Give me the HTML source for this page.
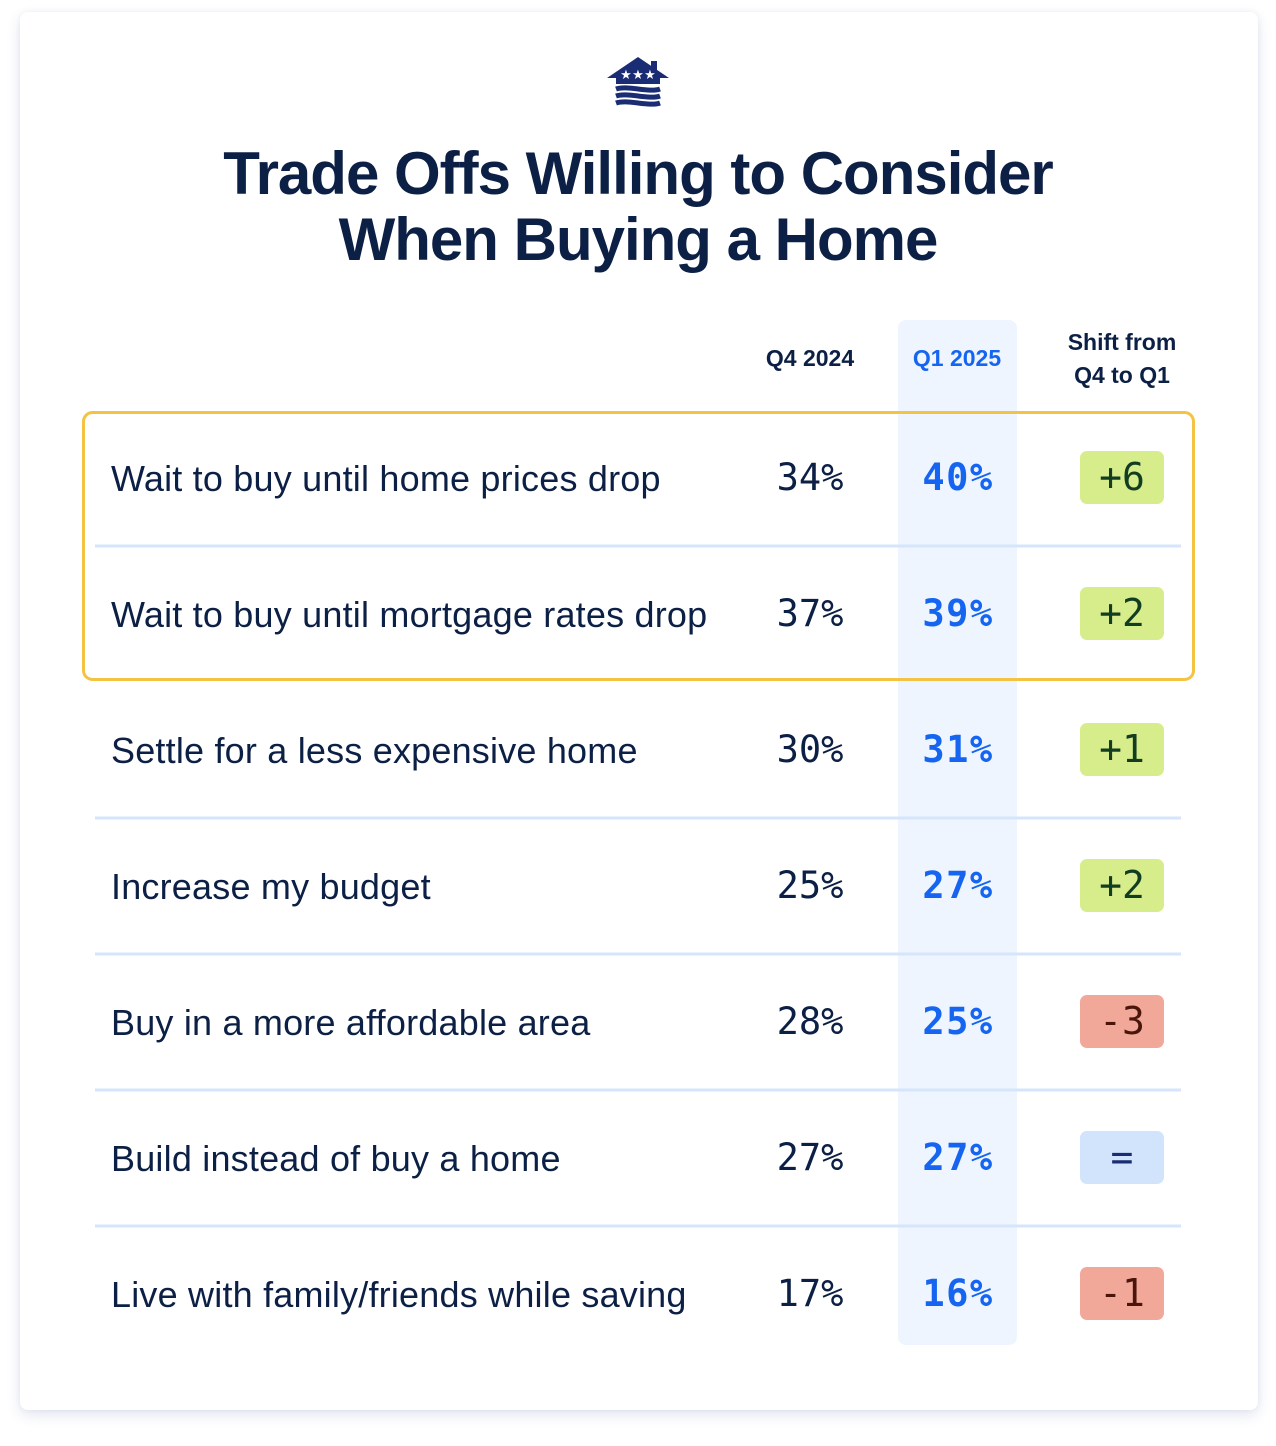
<!DOCTYPE html>
<html><head><meta charset="utf-8"><style>
html,body{margin:0;padding:0;background:#fff;width:1276px;height:1446px;overflow:hidden;}
.card{position:absolute;left:20px;top:12px;width:1238px;height:1398px;background:#fff;border-radius:8px;box-shadow:0 5px 14px rgba(40,60,140,0.13),0 0 6px rgba(40,60,140,0.06);}
svg{position:absolute;left:0;top:0;}
</style></head><body>
<div class="card"></div>
<svg width="1276" height="1446" viewBox="0 0 1276 1446" xmlns="http://www.w3.org/2000/svg">
<!-- logo -->
<g fill="#1a2d74">
<polygon points="607,78 638,57 669,78 660,78 660,84 616,84 616,78"/>
<rect x="651" y="61" width="6" height="12"/>
</g>
<g fill="#fff" font-family="DejaVu Sans, sans-serif" font-size="13" text-anchor="middle">
<text x="626" y="79">★</text><text x="638" y="79">★</text><text x="650" y="79">★</text>
</g>
<g fill="none" stroke="#1a2d74" stroke-width="5">
<path d="M616,89 C627,85 649,93 660,89"/>
<path d="M616,96 C627,92 649,100 660,96"/>
<path d="M616,103 C627,99 649,107 660,103"/>
</g>
<!-- title -->
<g font-family="Liberation Sans, Arial, sans-serif" font-weight="bold" font-size="60" fill="#0c1f45" text-anchor="middle" letter-spacing="-1">
<text x="638" y="194">Trade Offs Willing to Consider</text>
<text x="638" y="260">When Buying a Home</text>
</g>
<!-- Q1 column highlight -->
<rect x="898" y="320" width="119" height="1025" rx="8" fill="#eef5fe"/>
<!-- headers -->
<g font-family="Liberation Sans, Arial, sans-serif" font-weight="bold" font-size="23" text-anchor="middle" fill="#0c1f45">
<text x="810" y="366">Q4 2024</text>
<text x="957" y="366" fill="#1565f0">Q1 2025</text>
<text x="1122" y="350">Shift from</text>
<text x="1122" y="383">Q4 to Q1</text>
</g>
<!-- separators -->
<g stroke="#d5e5fb" stroke-width="3">
<line x1="95" y1="546" x2="1181" y2="546"/>
<line x1="95" y1="818" x2="1181" y2="818"/>
<line x1="95" y1="954" x2="1181" y2="954"/>
<line x1="95" y1="1090" x2="1181" y2="1090"/>
<line x1="95" y1="1226" x2="1181" y2="1226"/>
</g>
<!-- yellow box -->
<rect x="83.5" y="412.5" width="1110" height="267" rx="9" fill="none" stroke="#f4c343" stroke-width="3"/>
<!-- labels -->
<g font-family="Liberation Sans, Arial, sans-serif" font-size="36" fill="#0c1f45" letter-spacing="0.2">
<text x="111" y="491">Wait to buy until home prices drop</text>
<text x="111" y="627">Wait to buy until mortgage rates drop</text>
<text x="111" y="763">Settle for a less expensive home</text>
<text x="111" y="899">Increase my budget</text>
<text x="111" y="1035">Buy in a more affordable area</text>
<text x="111" y="1171">Build instead of buy a home</text>
<text x="111" y="1307">Live with family/friends while saving</text>
</g>
<!-- Q4 values -->
<g font-family="DejaVu Sans Mono, monospace" font-size="37" fill="#0c1f45" text-anchor="middle" font-weight="300">
<text x="810" y="490">34%</text>
<text x="810" y="626">37%</text>
<text x="810" y="762">30%</text>
<text x="810" y="898">25%</text>
<text x="810" y="1034">28%</text>
<text x="810" y="1170">27%</text>
<text x="810" y="1306">17%</text>
</g>
<!-- Q1 values -->
<g font-family="DejaVu Sans Mono, monospace" font-weight="bold" font-size="37" fill="#1565f0" text-anchor="middle" letter-spacing="1.5">
<text x="958" y="490">40%</text>
<text x="958" y="626">39%</text>
<text x="958" y="762">31%</text>
<text x="958" y="898">27%</text>
<text x="958" y="1034">25%</text>
<text x="958" y="1170">27%</text>
<text x="958" y="1306">16%</text>
</g>
<!-- badges -->
<g>
<rect x="1080" y="451" width="84" height="53" rx="7" fill="#d7ed8b"/>
<rect x="1080" y="587" width="84" height="53" rx="7" fill="#d7ed8b"/>
<rect x="1080" y="723" width="84" height="53" rx="7" fill="#d7ed8b"/>
<rect x="1080" y="859" width="84" height="53" rx="7" fill="#d7ed8b"/>
<rect x="1080" y="995" width="84" height="53" rx="7" fill="#f2a899"/>
<rect x="1080" y="1131" width="84" height="53" rx="7" fill="#d2e4fb"/>
<rect x="1080" y="1267" width="84" height="53" rx="7" fill="#f2a899"/>
</g>
<g font-family="DejaVu Sans Mono, monospace" font-size="38" text-anchor="middle">
<text x="1122" y="490" fill="#123d20">+6</text>
<text x="1122" y="626" fill="#123d20">+2</text>
<text x="1122" y="762" fill="#123d20">+1</text>
<text x="1122" y="898" fill="#123d20">+2</text>
<text x="1122" y="1034" fill="#4a150b">-3</text>
<text x="1122" y="1170" fill="#1a2d74">=</text>
<text x="1122" y="1306" fill="#4a150b">-1</text>
</g>
</svg>
</body></html>
